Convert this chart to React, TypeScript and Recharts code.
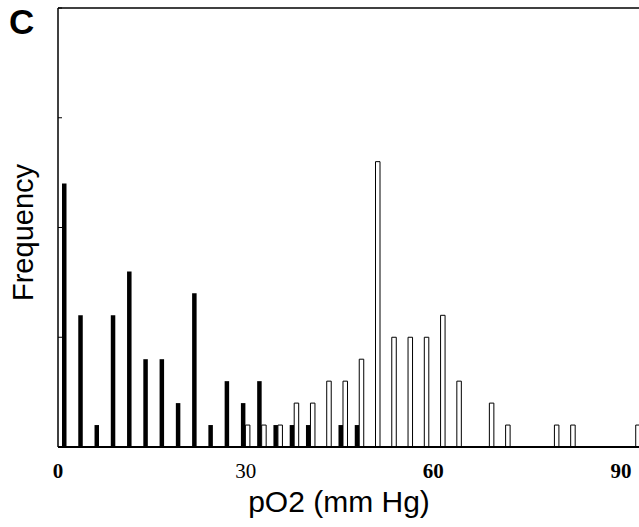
import { BarChart, Bar, XAxis, YAxis, ReferenceLine, Label } from 'recharts'

// bin centres along pO2 (mm Hg)
const binCentres = [
    1.3, 3.9, 6.5, 9.1, 11.7, 14.3, 16.9, 19.5, 22.1, 24.7, 27.3, 29.9,
    32.5, 35.1, 37.7, 40.3, 42.9, 45.5, 48.1, 50.7, 53.3, 55.9, 58.5, 61.1,
    63.7, 66.3, 68.9, 71.5, 74.1, 76.7, 79.3, 81.9, 84.5, 87.1, 89.7, 92.3,
]

// filled (black) bars
const filledCounts = [
    12, 6, 1, 6, 8, 4, 4, 2, 7, 1, 3, 2,
    3, 1, 1, 1, 0, 1, 1, 0, 0, 0, 0, 0,
    0, 0, 0, 0, 0, 0, 0, 0, 0, 0, 0, 0,
]

// open (white) bars
const openCounts = [
    0, 0, 0, 0, 0, 0, 0, 0, 0, 0, 0, 1,
    1, 1, 2, 2, 3, 3, 4, 13, 5, 5, 5, 6,
    3, 0, 2, 1, 0, 0, 1, 1, 0, 0, 0, 1,
]

const xTicks = [0, 30, 60, 90]
const yTicks = [0, 5, 10, 15, 20]

const data = binCentres.map((pO2, i) => ({
    pO2,
    filled: filledCounts[i],
    open: openCounts[i],
}))

function XTick({ x, y, payload }: any) {
    return (
        <text
            x={x}
            y={y + 23}
            textAnchor="middle"
            fontFamily="'Liberation Serif', serif"
            fontSize={21}
            fontWeight={payload.value === 30 ? 'normal' : 'bold'}
            fill="#000"
        >
            {payload.value}
        </text>
    )
}

export default function App() {
    return (
        <div style={{ position: 'absolute', left: 0, top: 0, width: 639, height: 527, overflow: 'hidden', background: '#fff' }}>
            <div
                style={{
                    position: 'absolute', left: 9, top: 2,
                    fontFamily: "'Liberation Sans', Arial, sans-serif",
                    fontWeight: 'bold', fontSize: 35, lineHeight: '40px', color: '#000',
                }}
            >
                C
            </div>
            <BarChart
                width={660}
                height={527}
                data={data}
                margin={{ top: 8, right: 14, bottom: 0, left: 58 }}
                barGap={0}
            >
                <XAxis
                    type="number"
                    dataKey="pO2"
                    domain={[0, 94]}
                    ticks={xTicks}
                    tickLine={false}
                    axisLine={{ stroke: '#000', strokeWidth: 2 }}
                    tick={<XTick />}
                    height={80}
                    interval={0}
                >
                    <Label
                        content={({ viewBox }: any) => (
                            <text
                                x={viewBox.x + viewBox.width / 2 - 13}
                                y={viewBox.y + 65}
                                textAnchor="middle"
                                fontFamily="'Liberation Sans', Arial, sans-serif"
                                fontSize={30}
                                fill="#000"
                            >
                                pO2 (mm Hg)
                            </text>
                        )}
                    />
                </XAxis>
                <YAxis
                    domain={[0, 20]}
                    ticks={yTicks}
                    mirror
                    tick={() => <g />}
                    tickSize={4}
                    tickLine={{ stroke: '#000' }}
                    axisLine={{ stroke: '#000', strokeWidth: 1.5 }}
                    width={58}
                >
                    <Label
                        content={({ viewBox }: any) => {
                            const cx = 33
                            const cy = viewBox.y + viewBox.height / 2 + 5
                            return (
                                <text
                                    x={cx}
                                    y={cy}
                                    transform={`rotate(-90 ${cx} ${cy})`}
                                    textAnchor="middle"
                                    fontFamily="'Liberation Sans', Arial, sans-serif"
                                    fontSize={29}
                                    fill="#000"
                                >
                                    Frequency
                                </text>
                            )
                        }}
                    />
                </YAxis>
                <ReferenceLine y={20} stroke="#000" strokeWidth={1.5} />
                <Bar dataKey="filled" fill="#000" barSize={4.5} isAnimationActive={false} />
                <Bar dataKey="open" fill="#fff" stroke="#000" strokeWidth={1} barSize={4.5} isAnimationActive={false} />
            </BarChart>
        </div>
    )
}
